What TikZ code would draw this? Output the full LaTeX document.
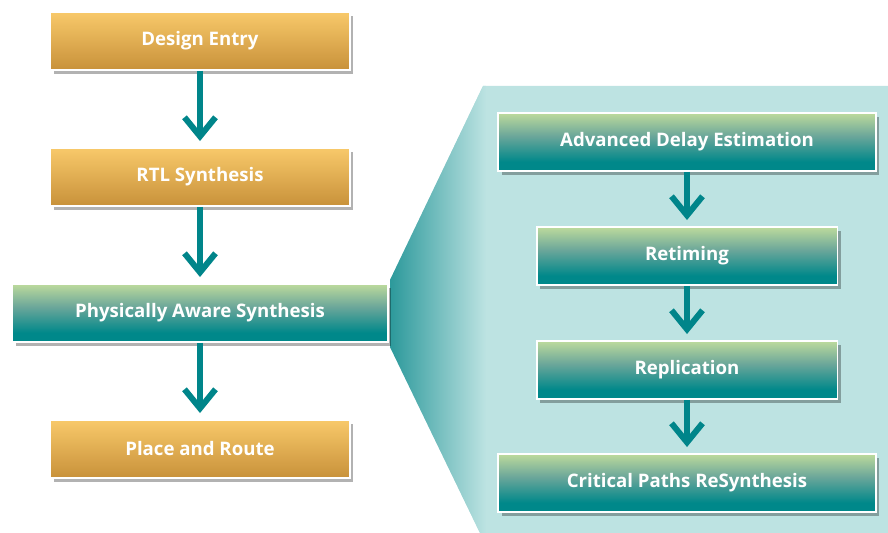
\documentclass[tikz,border=0pt]{standalone}
\usepackage{fontspec}
\setmainfont{Open Sans}
\usetikzlibrary{arrows.meta,shadows}

\definecolor{orangetop}{HTML}{F8C96A}
\definecolor{orangebot}{HTML}{C8913A}
\definecolor{greentop}{HTML}{BDDA9C}
\definecolor{tealmid}{HTML}{6AA69A}
\definecolor{tealbot}{HTML}{00888A}
\definecolor{panellight}{HTML}{BDE3E2}
\definecolor{paneldark}{HTML}{2C999B}
\definecolor{arrowteal}{HTML}{00858A}

\pgfdeclareverticalshading{tealfade}{100bp}{color(0bp)=(tealbot); color(33bp)=(tealbot); color(55bp)=(tealmid); color(75bp)=(greentop); color(100bp)=(greentop)}

\tikzset{
    stage/.style={draw=white, line width=1.1pt, text=white,
        font=\fontsize{10.6}{12}\selectfont\bfseries, minimum height=1.16cm,
        drop shadow={shadow xshift=0.07cm, shadow yshift=-0.08cm, fill=black, opacity=0.3}},
    orangebox/.style={stage, top color=orangetop, bottom color=orangebot},
    greenbox/.style={stage, shade, shading=tealfade},
    flow/.style={arrowteal, line width=0.12cm, -{Straight Barb[length=0.38cm, width=0.62cm]}, shorten >=0.12cm}
}

\begin{document}
\begin{tikzpicture}[x=0.02cm, y=-0.02cm]
    \useasboundingbox (0,0) rectangle (888,533);
    \fill [panellight] (483,86) -- (888,86) -- (888,533) -- (480,533) -- (390,347) -- (390,280) -- cycle;
    \begin{scope}
        \clip (483,86) -- (888,86) -- (888,533) -- (480,533) -- (390,347) -- (390,280) -- cycle;
        \shade [left color=paneldark, right color=panellight] (390,86) rectangle (486,533);
    \end{scope}

    \node [orangebox, minimum width=6cm] (entry) at (200,41) {Design Entry};
    \node [orangebox, minimum width=6cm] (rtl) at (200,177) {RTL Synthesis};
    \node [greenbox, minimum width=7.52cm] (phys) at (200,313) {Physically Aware Synthesis};
    \node [orangebox, minimum width=6cm] (place) at (200,449) {Place and Route};

    \node [greenbox, minimum width=7.56cm] (delay) at (687,142) {Advanced Delay Estimation};
    \node [greenbox, minimum width=6.02cm] (retime) at (687,256) {Retiming};
    \node [greenbox, minimum width=6.02cm] (repl) at (687,370) {Replication};
    \node [greenbox, minimum width=7.56cm] (crit) at (687,483) {Critical Paths ReSynthesis};

    \draw [flow] (entry) -- (rtl);
    \draw [flow] (rtl) -- (phys);
    \draw [flow] (phys) -- (place);
    \draw [flow] (delay) -- (retime);
    \draw [flow] (retime) -- (repl);
    \draw [flow] (repl) -- (crit);
\end{tikzpicture}
\end{document}
